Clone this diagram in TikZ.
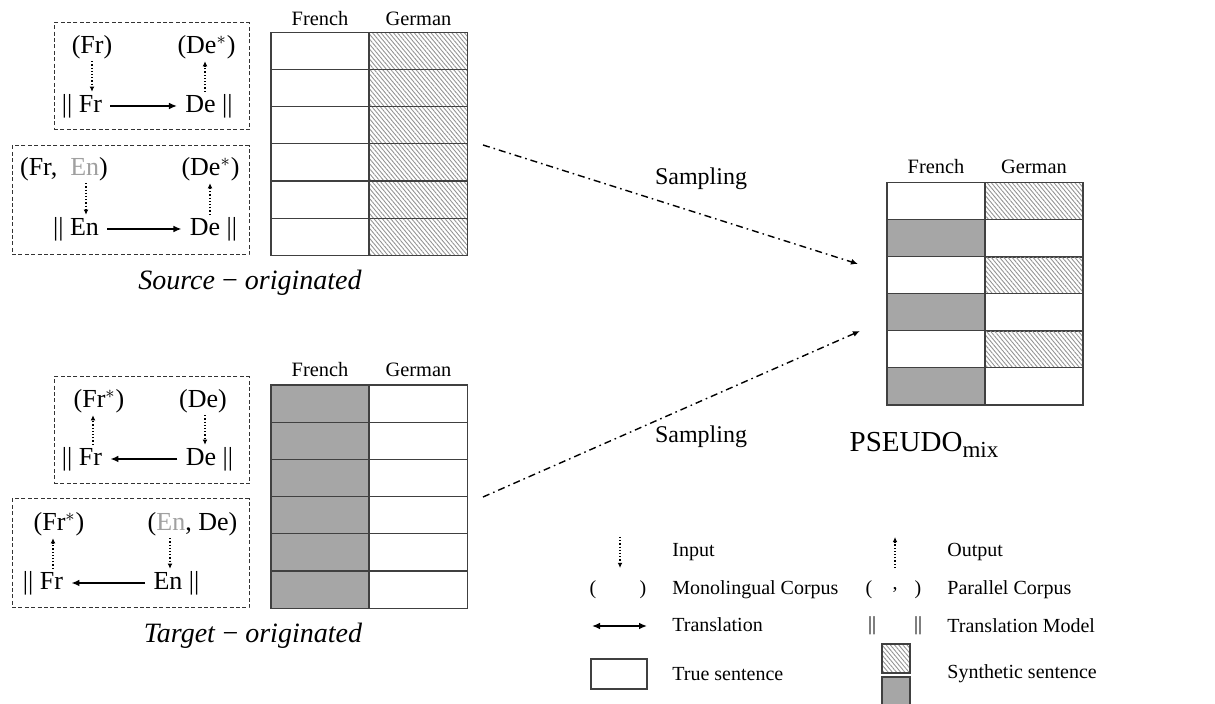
\documentclass[tikz,border=0pt]{standalone}
\usepackage{fontspec}
\setmainfont{Liberation Serif}
\usetikzlibrary{arrows.meta,patterns.meta}
\definecolor{cellgray}{HTML}{A6A6A6}
\definecolor{engray}{HTML}{A0A0A0}
\definecolor{tline}{HTML}{404040}
\begin{document}
\begin{tikzpicture}[x=0.5pt,y=-0.5pt,
  every node/.style={inner sep=1pt},
  tm/.style={font=\fontsize{13}{15}\selectfont},
  hdr/.style={font=\fontsize{10.2}{12}\selectfont},
  leg/.style={font=\fontsize{10}{12}\selectfont},
  legl/.style={leg,anchor=west,inner sep=0pt},
  samplab/.style={font=\fontsize{12}{14}\selectfont},
  orig/.style={font=\fontsize{14}{16}\selectfont},
  dbox/.style={draw=black!80,dash pattern=on 2pt off 1.2pt,line width=0.5pt,inner sep=0pt},
  cell/.style={draw=tline,line width=0.6pt,minimum width=49pt,minimum height=18.6pt,inner sep=0pt},
  truec/.style={cell,fill=white},
  sync/.style={cell,fill=cellgray},
  hatp/.style={pattern={Lines[angle=-50,distance=1.6pt,line width=0.45pt]},pattern color=black!42},
  hatc/.style={cell,hatp},
  trans/.style={line width=0.8pt,-{Latex[length=4pt,width=3.4pt]},shorten <=3pt,shorten >=3pt},
  inar/.style={densely dotted,line width=0.6pt,-{Latex[length=2.6pt,width=2.4pt]}},
  samp/.style={line width=0.7pt,dash pattern=on 3.5pt off 2pt on 0.8pt off 2pt,-{Latex[length=3.5pt,width=3pt]}}
]
\useasboundingbox (0,0) rectangle (1215,704);

% ---------- dashed boxes ----------
\node[dbox,minimum width=97.5pt,minimum height=53.5pt] (box1) at (151.5,76.5) {};
\node[dbox,minimum width=118.5pt,minimum height=54.5pt] (box2) at (130.5,200.5) {};
\node[dbox,minimum width=97.5pt,minimum height=53.5pt] (box3) at (151.5,430.5) {};
\node[dbox,minimum width=118.5pt,minimum height=54.5pt] (box4) at (130.5,553.5) {};

% box 1
\node[tm] (n1a) at (92,47) {(Fr)};
\node[tm] (n1b) at (206.5,47) {(De$^*$)};
\node[tm] (m1a) at (82,106) {|| Fr};
\node[tm] (m1b) at (209,106) {De ||};
\draw[trans] (m1a) -- (m1b);
\draw[inar] (n1a.south) -- (n1a.south |- m1a.north);
\draw[inar] (m1b.north -| 205,0) -- (n1b.south -| 205,0);

% box 2
\node[tm] (n2a) at (64,169) {(Fr,\hspace{0.5em}{\color{engray}En})};
\node[tm] (n2b) at (210.5,169) {(De$^*$)};
\node[tm] (m2a) at (76,229) {|| En};
\node[tm] (m2b) at (213.5,229) {De ||};
\draw[trans] (m2a) -- (m2b);
\draw[inar] (n2a.south -| 86,0) -- (m2a.north -| 86,0);
\draw[inar] (m2b.north -| 210,0) -- (n2b.south -| 210,0);

% box 3
\node[tm] (n3a) at (99,401) {(Fr$^*$)};
\node[tm] (n3b) at (203,401) {(De)};
\node[tm] (m3a) at (82,459) {|| Fr};
\node[tm] (m3b) at (209.5,459) {De ||};
\draw[trans] (m3b) -- (m3a);
\draw[inar] (m3a.north -| 93,0) -- (n3a.south -| 93,0);
\draw[inar] (n3b.south -| 205,0) -- (m3b.north -| 205,0);

% box 4
\node[tm] (n4a) at (59,524) {(Fr$^*$)};
\node[tm] (n4b) at (192.5,524) {({\color{engray}En}, De)};
\node[tm] (m4a) at (43,583) {|| Fr};
\node[tm] (m4b) at (176.5,583) {En ||};
\draw[trans] (m4b) -- (m4a);
\draw[inar] (m4a.north -| 53,0) -- (n4a.south -| 53,0);
\draw[inar] (n4b.south -| 170,0) -- (m4b.north -| 170,0);

% ---------- top table (source-originated) ----------
\foreach \i in {1,...,6} {
  \node[truec] (sf\i) at (320,{32.3+37.2*(\i-0.5)}) {};
  \node[hatc] (sg\i) at (418.5,{32.3+37.2*(\i-0.5)}) {};
}
\node[hdr] (sfh) at (320,19) {French};
\node[hdr] (sgh) at (418.5,19) {German};
\node[orig] (srcl) at (250,283) {\textit{Source} − \textit{originated}};

% ---------- bottom table (target-originated) ----------
\foreach \i in {1,...,6} {
  \node[sync] (tf\i) at (320,{385+37.2*(\i-0.5)}) {};
  \node[truec] (tg\i) at (418.5,{385+37.2*(\i-0.5)}) {};
}
\node[hdr] (tfh) at (320,370) {French};
\node[hdr] (tgh) at (418.5,370) {German};
\node[orig] (tgtl) at (253,636) {\textit{Target} − \textit{originated}};

% ---------- mixed table ----------
\node[truec] (mf1) at (936,201.5) {};
\node[hatc]  (mg1) at (1034,201.5) {};
\node[sync]  (mf2) at (936,238.5) {};
\node[truec] (mg2) at (1034,238.5) {};
\node[truec] (mf3) at (936,275.5) {};
\node[hatc]  (mg3) at (1034,275.5) {};
\node[sync]  (mf4) at (936,312.5) {};
\node[truec] (mg4) at (1034,312.5) {};
\node[truec] (mf5) at (936,349.5) {};
\node[hatc]  (mg5) at (1034,349.5) {};
\node[sync]  (mf6) at (936,386.5) {};
\node[truec] (mg6) at (1034,386.5) {};
\node[hdr] (mfh) at (936,167) {French};
\node[hdr] (mgh) at (1034,167) {German};
\node[font=\fontsize{14.5}{16}\selectfont] (pseudo) at (924,445)
  {PSEUDO\raisebox{-0.45ex}{\fontsize{11.5}{12}\selectfont mix}};

% ---------- sampling arrows ----------
\coordinate (s1) at (483,145);
\coordinate (e1) at (858,264);
\coordinate (s2) at (483,497);
\coordinate (e2) at (860,331);
\draw[samp] (s1) -- (e1);
\draw[samp] (s2) -- (e2);
\node[samplab] (samp1) at (701,179) {Sampling};
\node[samplab] (samp2) at (701,437) {Sampling};

% ---------- legend ----------
\coordinate (li1) at (620,537);
\coordinate (li2) at (620,568);
\draw[inar] (li1) -- (li2);
\node[legl] (lin) at (672,552) {Input};
\node[leg] (lp1) at (593,590) {(};
\node[leg] (lp2) at (643,590) {)};
\node[legl] (lmono) at (672,590) {Monolingual Corpus};
\coordinate (lt1) at (592,626);
\coordinate (lt2) at (647,626);
\draw[line width=0.8pt,{Latex[length=4pt,width=3.4pt]}-{Latex[length=4pt,width=3.4pt]}] (lt1) -- (lt2);
\node[legl] (ltr) at (672,625) {Translation};
\node[draw=tline,line width=0.6pt,minimum width=28pt,minimum height=15pt,inner sep=0pt] (ltrue) at (619,674) {};
\node[legl] (ltruel) at (672,674) {True sentence};

\coordinate (lo1) at (895,568);
\coordinate (lo2) at (895,537);
\draw[inar] (lo1) -- (lo2);
\node[legl] (lout) at (947,552) {Output};
\node[leg] (lq1) at (869,590) {(};
\node[leg] (lq2) at (895,590) {,};
\node[leg] (lq3) at (918,590) {)};
\node[legl] (lpar) at (947,590) {Parallel Corpus};
\node[leg] (lb1) at (872,626) {||};
\node[leg] (lb2) at (918,626) {||};
\node[legl] (ltm) at (947,626) {Translation Model};
\node[cell,hatp,minimum width=14pt,minimum height=14.5pt] (lhat) at (896,658.5) {};
\node[cell,fill=cellgray,minimum width=14pt,minimum height=14.5pt] (lgray) at (896,691.5) {};
\node[legl] (lsyn) at (947,674) {Synthetic sentence};
\end{tikzpicture}
\end{document}
